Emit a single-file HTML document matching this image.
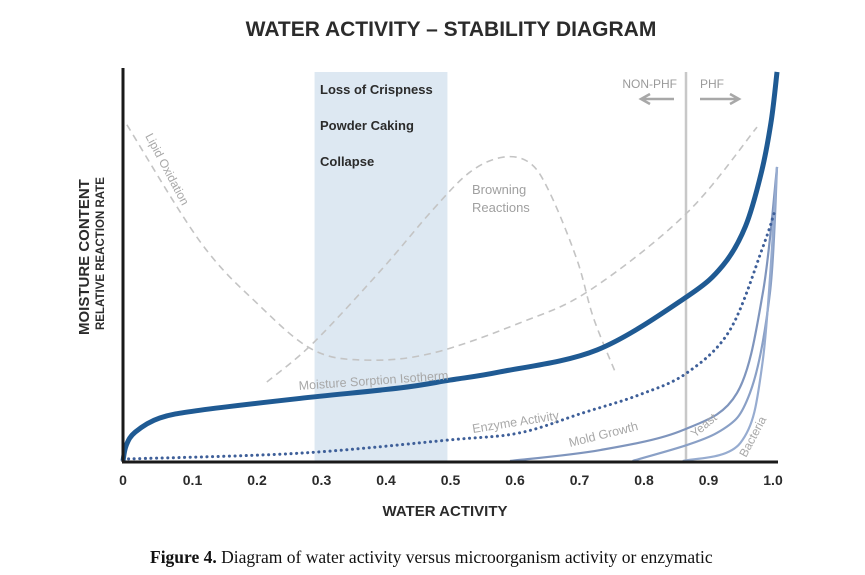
<!DOCTYPE html>
<html><head><meta charset="utf-8"><style>
body{margin:0;background:#fff;width:865px;height:575px;overflow:hidden}
svg{display:block}
</style></head><body>
<svg width="865" height="575" viewBox="0 0 865 575" xmlns="http://www.w3.org/2000/svg" font-family="Liberation Sans, sans-serif">
<text x="451" y="36" text-anchor="middle" font-size="21" font-weight="bold" fill="#2b2b2b">WATER ACTIVITY – STABILITY DIAGRAM</text>
<rect id="band" fill="#dde8f2"/>
<text x="320" y="94" font-size="13" font-weight="bold" fill="#2b2b2b">Loss of Crispness</text>
<text x="320" y="130" font-size="13" font-weight="bold" fill="#2b2b2b">Powder Caking</text>
<text x="320" y="166" font-size="13" font-weight="bold" fill="#2b2b2b">Collapse</text>
<line x1="686" y1="72" x2="686" y2="461" stroke="#c8c8c8" stroke-width="2.5"/>
<text x="677" y="88" text-anchor="end" font-size="12" fill="#9a9a9a">NON-PHF</text>
<text x="700" y="88" font-size="12" fill="#9a9a9a">PHF</text>
<path d="M674 99 H642 M650 94 L641 99 L650 104" stroke="#a8a8a8" stroke-width="2.5" fill="none"/>
<path d="M700 99 H738 M730 94 L739 99 L730 104" stroke="#a8a8a8" stroke-width="2.5" fill="none"/>
<g id="curves"></g>
<text transform="translate(145,136) rotate(62)" font-size="12" fill="#a8a8a8">Lipid Oxidation</text>
<text x="472" y="194" font-size="13" fill="#a0a0a0">Browning</text>
<text x="472" y="212" font-size="13" fill="#a0a0a0">Reactions</text>
<text transform="translate(299,390) rotate(-4)" font-size="12.5" fill="#a8a8a8">Moisture Sorption Isotherm</text>
<text transform="translate(473,433) rotate(-9)" font-size="12.5" fill="#a8a8a8">Enzyme Activity</text>
<text transform="translate(570,447) rotate(-14)" font-size="12.5" fill="#a8a8a8">Mold Growth</text>
<text transform="translate(695,438) rotate(-40)" font-size="12" fill="#a8a8a8">Yeast</text>
<text transform="translate(746,458) rotate(-62)" font-size="12" fill="#a8a8a8">Bacteria</text>
<line x1="123" y1="68" x2="123" y2="462" stroke="#1a1a1a" stroke-width="3"/>
<line x1="122" y1="462" x2="778" y2="462" stroke="#1a1a1a" stroke-width="3"/>
<g id="ticks"></g>
<text x="445" y="516" text-anchor="middle" font-size="15" font-weight="bold" fill="#2b2b2b">WATER ACTIVITY</text>
<text transform="translate(89,335) rotate(-90)" font-size="15" font-weight="bold" fill="#2b2b2b">MOISTURE CONTENT</text>
<text transform="translate(104,330) rotate(-90)" font-size="11.5" font-weight="bold" fill="#2b2b2b">RELATIVE REACTION RATE</text>
<text x="150" y="563" font-family="Liberation Serif, serif" font-size="17.5" fill="#111"><tspan font-weight="bold">Figure 4.</tspan> Diagram of water activity versus microorganism activity or enzymatic</text>
</svg>
<script>
const tickValues=[0,0.1,0.2,0.3,0.4,0.5,0.6,0.7,0.8,0.9,1.0];
const tickLabels=["0","0.1","0.2","0.3","0.4","0.5","0.6","0.7","0.8","0.9","1.0"];
const band=[0.297,0.503];
const isothermX=[0,0.005,0.019,0.057,0.12,0.274,0.43,0.507,0.585,0.735,0.874,0.93,0.965,0.99,1.005,1.014];
const isothermY=[0,4,7.4,11,13,16,18.7,20.7,22.8,28.4,42,50,60,74,87,99.5];
const enzymeX=[0,0.274,0.507,0.615,0.713,0.8,0.874,0.941,0.992,1.011];
const enzymeY=[0.5,2,5.4,7.2,12.3,16.9,22.5,33.5,54.7,64.2];
const moldX=[0.6,0.74,0.868,0.952,0.992,1.014];
const moldY=[0,2.8,7.9,17.4,43,75.2];
const yeastX=[0.79,0.921,0.972,1.003,1.014];
const yeastY=[0,7.2,17.4,43,75.2];
const bacteriaX=[0.868,0.957,0.992,1.014];
const bacteriaY=[0,4.6,25.8,75.2];
const lipidX=[0.006,0.12,0.21,0.295,0.378,0.48,0.615,0.724,0.874,0.983];
const lipidY=[86,56,40,28.4,25.8,27.6,35.3,43.7,63.4,85.4];
const browningX=[0.223,0.295,0.4,0.48,0.538,0.589,0.631,0.662,0.704,0.729,0.763];
const browningY=[20.2,30.2,48.8,64.2,73.9,77.7,76.2,68.5,51.4,36.8,22.8];

const xs=v=>123+v*645, ys=v=>461-v*3.91;
const NS="http://www.w3.org/2000/svg";
function smooth(X,Y){
  const p=X.map((x,i)=>[xs(x),ys(Y[i])]);
  let d="M"+p[0][0]+" "+p[0][1];
  for(let i=0;i<p.length-1;i++){
    const p0=p[i-1]||p[i],p1=p[i],p2=p[i+1],p3=p[i+2]||p2;
    const c1=[p1[0]+(p2[0]-p0[0])/6,p1[1]+(p2[1]-p0[1])/6];
    const c2=[p2[0]-(p3[0]-p1[0])/6,p2[1]-(p3[1]-p1[1])/6];
    d+=` C${c1[0]} ${c1[1]} ${c2[0]} ${c2[1]} ${p2[0]} ${p2[1]}`;
  }
  return d;
}
const b=document.getElementById('band');
b.setAttribute('x',xs(band[0]));b.setAttribute('y',72);
b.setAttribute('width',xs(band[1])-xs(band[0]));b.setAttribute('height',389);
const g=document.getElementById('curves');
function add(name,X,Y,stroke,w,dash,cap){
  const p=document.createElementNS(NS,'path');
  p.setAttribute('d',smooth(X,Y));p.setAttribute('fill','none');
  p.setAttribute('stroke',stroke);p.setAttribute('stroke-width',w);
  if(dash)p.setAttribute('stroke-dasharray',dash);
  if(cap)p.setAttribute('stroke-linecap',cap);
  
  
  g.appendChild(p);
}
add('lipid-oxidation-curve',lipidX,lipidY,'#c4c4c4',1.6,'7 5');
add('browning-curve',browningX,browningY,'#c4c4c4',1.6,'7 5');
add('mold-curve',moldX,moldY,'#7f95bd',2.2);
add('yeast-curve',yeastX,yeastY,'#8aa0c6',2.2);
add('bacteria-curve',bacteriaX,bacteriaY,'#97acd0',2.2);
add('enzyme-curve',enzymeX,enzymeY,'#3e5f99',3,'0.1 5.5','round');
add('isotherm-curve',isothermX,isothermY,'#1f5a93',5);
const t=document.getElementById('ticks');
tickValues.forEach((v,i)=>{
  const e=document.createElementNS(NS,'text');
  e.setAttribute('x',xs(v)+(i?5:0));e.setAttribute('y',485);
  e.setAttribute('text-anchor','middle');e.setAttribute('font-size','14');
  e.setAttribute('font-weight','bold');e.setAttribute('fill','#2b2b2b');
  e.textContent=tickLabels[i];
  
  
  t.appendChild(e);
});
</script>
</body></html>
